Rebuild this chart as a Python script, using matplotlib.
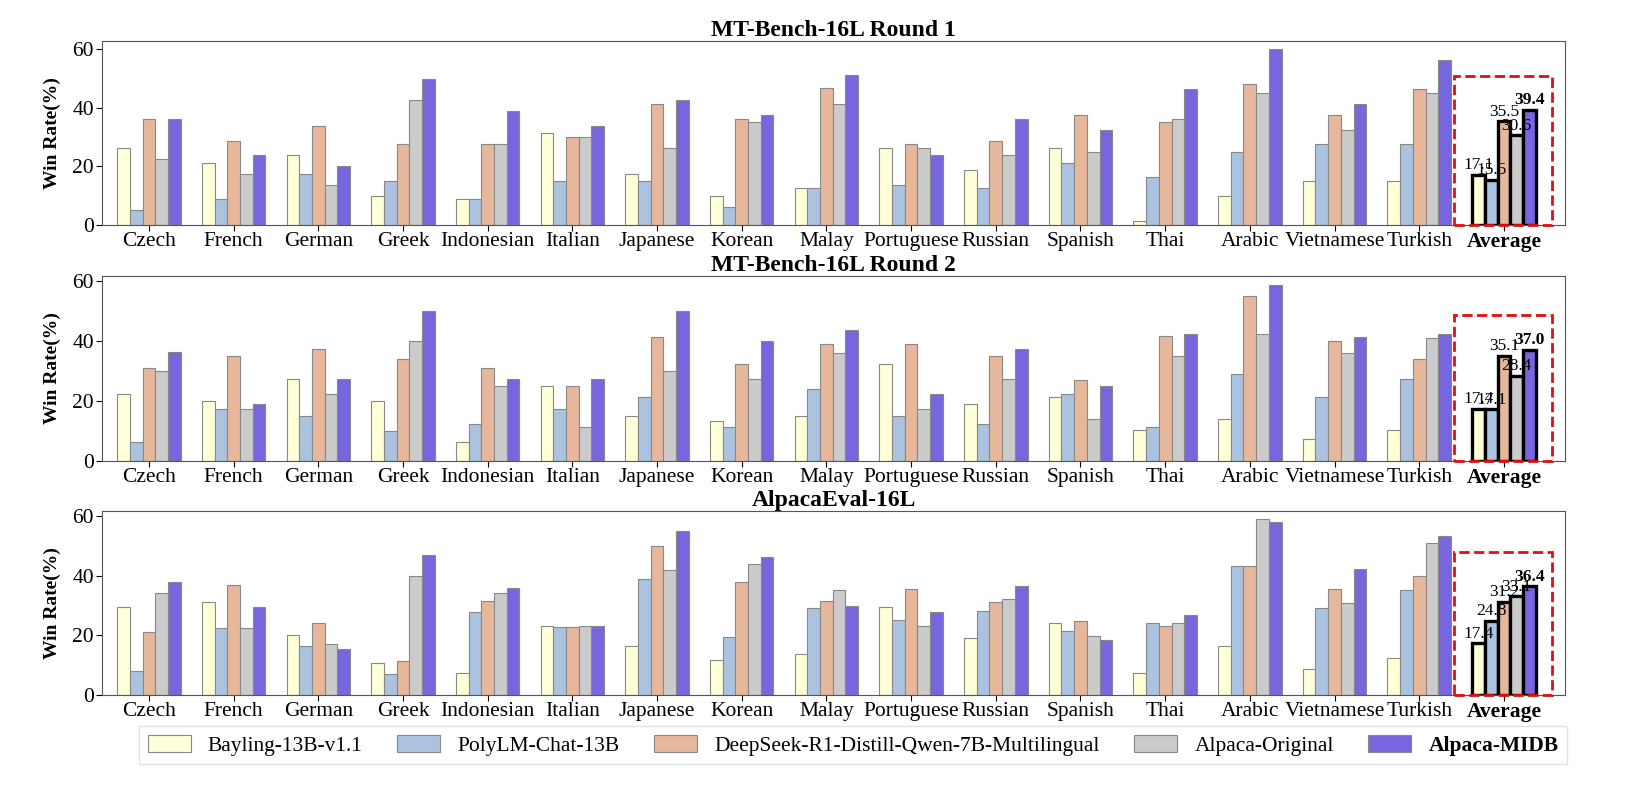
import numpy as np
import matplotlib.pyplot as plt
from matplotlib.patches import Rectangle

plt.rcParams['font.family'] = ['Liberation Serif', 'DejaVu Serif']

languages = ['Czech', 'French', 'German', 'Greek', 'Indonesian', 'Italian', 'Japanese', 'Korean',
             'Malay', 'Portuguese', 'Russian', 'Spanish', 'Thai', 'Arabic', 'Vietnamese', 'Turkish']
models = ['Bayling-13B-v1.1', 'PolyLM-Chat-13B', 'DeepSeek-R1-Distill-Qwen-7B-Multilingual',
          'Alpaca-Original', 'Alpaca-MIDB']
colors = ['#FFFFD8', '#ABC3DF', '#E6B79A', '#CBCBCB', '#7766DD']
titles = ['MT-Bench-16L Round 1', 'MT-Bench-16L Round 2', 'AlpacaEval-16L']

# round 1, one list per model
r1_bayling = [26.2, 21.2, 23.8, 10.0, 8.9, 31.3, 17.4, 10.0, 12.5, 26.2, 18.7, 26.2, 1.3, 10.0, 14.9, 14.9]
r1_polylm = [5.1, 8.9, 17.4, 15.0, 8.9, 15.0, 15.0, 6.2, 12.5, 13.7, 12.5, 21.2, 16.4, 24.8, 27.7, 27.7]
r1_deepseek = [36.1, 28.7, 33.8, 27.7, 27.7, 30.0, 41.3, 36.1, 46.7, 27.7, 28.7, 37.5, 35.1, 48.1, 37.5, 46.4]
r1_original = [22.4, 17.4, 13.8, 42.6, 27.7, 30.0, 26.2, 35.1, 41.3, 26.2, 23.8, 24.8, 36.1, 45.0, 32.4, 45.0]
r1_midb = [36.1, 23.8, 20.1, 50.0, 38.9, 33.8, 42.5, 37.5, 51.3, 23.8, 36.1, 32.4, 46.3, 59.9, 41.3, 56.3]
r1_avg = [17.1, 15.5, 35.5, 30.6, 39.4]

# round 2
r2_bayling = [22.4, 20.0, 27.4, 20.0, 6.1, 24.9, 15.0, 13.4, 15.0, 32.4, 18.8, 21.2, 10.1, 13.8, 7.4, 10.1]
r2_polylm = [6.1, 17.4, 15.0, 10.0, 12.4, 17.4, 21.2, 11.1, 23.8, 15.0, 12.4, 22.4, 11.1, 28.8, 21.2, 27.4]
r2_deepseek = [30.8, 34.8, 37.4, 33.8, 31.1, 24.9, 41.2, 32.4, 38.8, 38.8, 34.8, 26.8, 41.6, 54.9, 39.9, 33.8]
r2_original = [29.8, 17.4, 22.4, 39.9, 24.9, 11.1, 29.9, 27.4, 36.1, 17.4, 27.4, 13.8, 34.8, 42.4, 36.1, 41.1]
r2_midb = [36.2, 18.8, 27.4, 49.9, 27.4, 27.4, 49.9, 39.9, 43.6, 22.4, 37.4, 24.9, 42.4, 58.6, 41.2, 42.4]
r2_avg = [17.4, 17.1, 35.1, 28.4, 37.0]

# alpacaeval
ae_bayling = [29.5, 31.0, 20.0, 10.8, 7.5, 23.2, 16.5, 11.8, 13.8, 29.5, 19.0, 24.2, 7.5, 16.3, 8.8, 12.5]
ae_polylm = [8.0, 22.5, 16.5, 7.0, 27.7, 22.8, 39.0, 19.5, 29.0, 25.0, 28.2, 21.4, 24.0, 43.2, 29.2, 35.2]
ae_deepseek = [21.0, 37.0, 24.0, 11.5, 31.5, 22.8, 50.0, 38.0, 31.5, 35.5, 31.3, 24.7, 23.2, 43.2, 35.5, 39.9]
ae_original = [34.0, 22.5, 17.0, 40.0, 34.0, 23.2, 42.0, 43.8, 35.0, 23.2, 32.3, 19.6, 24.2, 58.8, 30.7, 50.8]
ae_midb = [37.8, 29.5, 15.5, 47.0, 35.8, 23.2, 55.0, 46.3, 29.7, 27.7, 36.5, 18.3, 26.8, 57.8, 42.3, 53.2]
ae_avg = [17.4, 24.8, 31.2, 33.1, 36.4]

panels = [
    ([r1_bayling, r1_polylm, r1_deepseek, r1_original, r1_midb], r1_avg),
    ([r2_bayling, r2_polylm, r2_deepseek, r2_original, r2_midb], r2_avg),
    ([ae_bayling, ae_polylm, ae_deepseek, ae_original, ae_midb], ae_avg),
]

fig = plt.figure(figsize=(16.25, 7.86), dpi=100)
bottoms = [0.7137, 0.4139, 0.1158]
width = 0.15
x = np.arange(len(languages))
x_avg = len(languages)
offsets = (np.arange(5) - 2) * width

for k, (series, avg) in enumerate(panels):
    ax = fig.add_axes([0.063, bottoms[k], 0.9, 0.2345])
    for i in range(5):
        ax.bar(x + offsets[i], series[i], width, color=colors[i], edgecolor='#888888', linewidth=0.8,
               label=models[i])
        ax.bar(x_avg + offsets[i], avg[i], width, color=colors[i], edgecolor='black', linewidth=2.4)
        ax.text(x_avg + offsets[i], avg[i] + 0.5, f'{avg[i]:.1f}', ha='center', va='bottom', fontsize=12.5,
                fontweight='bold' if i == 4 else 'normal')
    top = max(max(s) for s in series)
    ax.set_ylim(0, top * 1.05)
    ax.set_xlim(-0.55, x_avg + 0.72)
    box_top = max(avg) + 11.5
    ax.add_patch(Rectangle((x_avg - 0.59, 0), 1.16, box_top, fill=False, edgecolor='#DD1111',
                           linestyle='--', linewidth=2, zorder=5, clip_on=False))
    ax.set_xticks(list(x) + [x_avg])
    ax.set_xticklabels(languages + ['Average'], fontsize=15.5)
    ax.get_xticklabels()[-1].set_fontweight('bold')
    ax.set_yticks([0, 20, 40, 60])
    ax.tick_params(axis='y', labelsize=15.5, length=4, pad=2)
    ax.tick_params(axis='x', length=4, pad=1)
    ax.set_ylabel('Win Rate(%)', fontsize=14, fontweight='bold', labelpad=8)
    ax.set_title(titles[k], fontsize=17, fontweight='bold', pad=2)
    for s in ax.spines.values():
        s.set_color('#555555')

handles, labels = ax.get_legend_handles_labels()
leg = fig.legend(handles, labels, loc='center', bbox_to_anchor=(0.525, 0.052), ncol=5, fontsize=15.5,
                 frameon=True, handlelength=2.0, handleheight=0.85, handletextpad=0.8, columnspacing=1.6,
                 edgecolor='#DDDDDD', fancybox=False)
leg.get_texts()[-1].set_fontweight('bold')

fig.savefig('out.png', dpi=100)
